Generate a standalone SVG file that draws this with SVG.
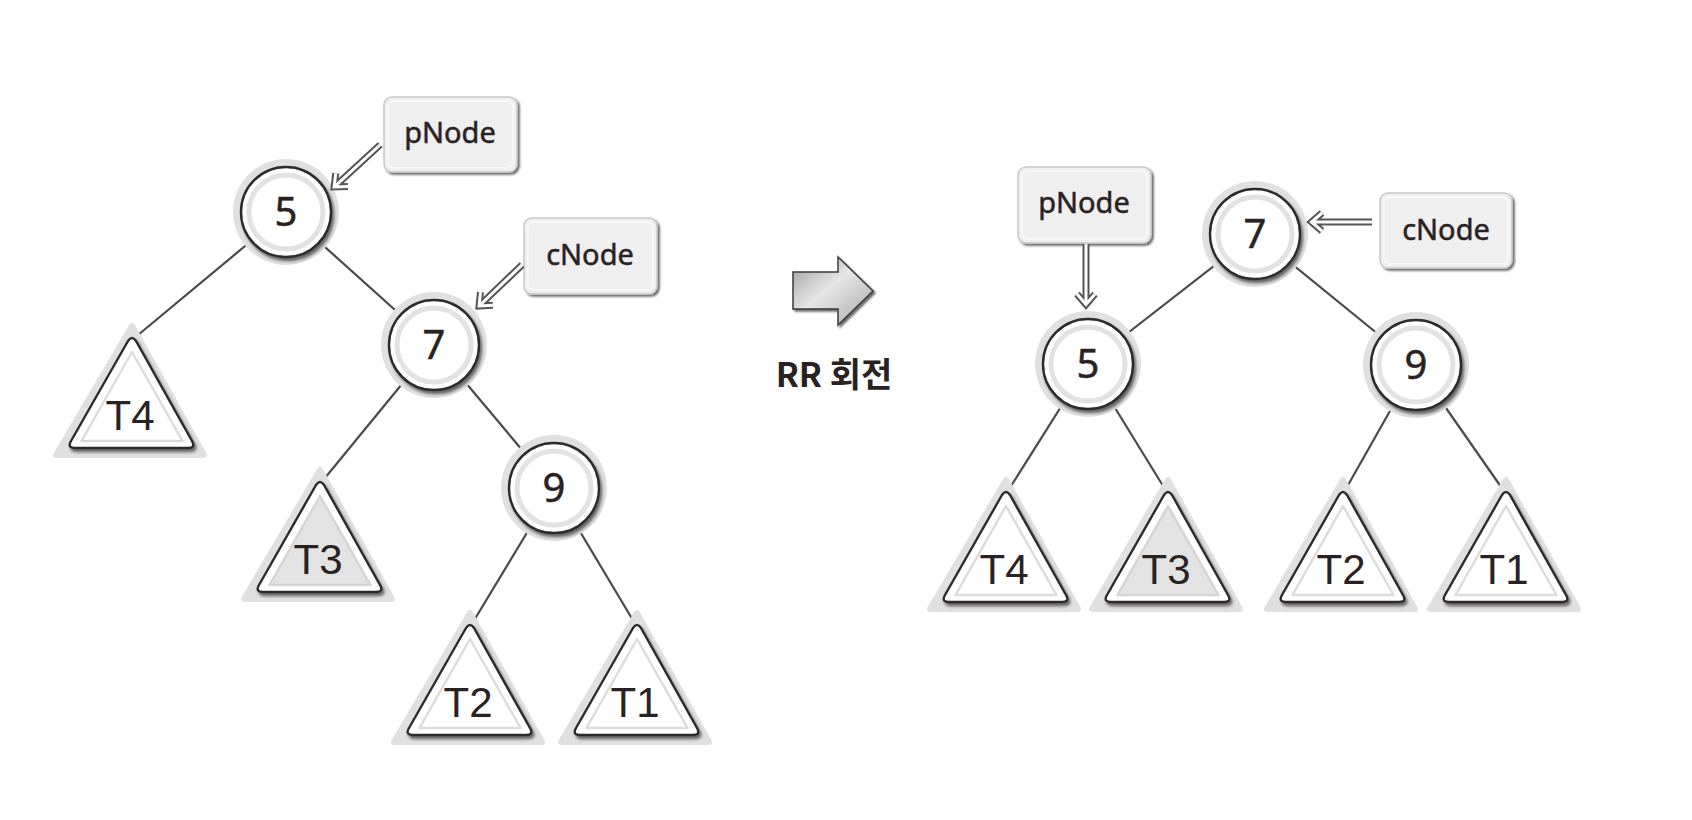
<svg xmlns="http://www.w3.org/2000/svg" xmlns:xlink="http://www.w3.org/1999/xlink" width="1692" height="820" viewBox="0 0 1692 820">
<style>
.edge{stroke:#4a4a4a;stroke-width:2.2;fill:none}
.halo{fill:#e0e0e0}
.outer{fill:#fff;stroke:#2e2a2a;stroke-width:2.4;stroke-linejoin:round}
.ring{fill:none;stroke:#e2e2e2;stroke-width:5}
.inner{fill:none;stroke:#dcdcdc;stroke-width:2.5;stroke-linejoin:round}
.innerg{fill:#e3e3e3;stroke:#d6d6d6;stroke-width:2.5;stroke-linejoin:round}
.num{font-family:"Noto Sans","Open Sans",sans-serif;font-size:40px;fill:#2a2222;stroke:#2a2222;stroke-width:0.5;text-anchor:middle}
.tl{font-family:"Liberation Sans",Arial,sans-serif;font-size:42px;fill:#2a2222;text-anchor:middle}
.lbl{font-family:"Noto Sans","Open Sans",sans-serif;font-size:29px;fill:#2a2222;stroke:#2a2222;stroke-width:0.5;text-anchor:middle}
.box{fill:#efefef;stroke:#c9c9c9;stroke-width:1.5}
.boxin{fill:none;stroke:#f7f7f7;stroke-width:2}
.arD{fill:none;stroke:#555;stroke-width:7;stroke-linejoin:miter;stroke-linecap:butt}
.arW{fill:none;stroke:#fff;stroke-width:3;stroke-linejoin:miter;stroke-linecap:butt}
.ko{font-family:"Noto Sans CJK KR","Noto Sans",sans-serif;font-size:34px;font-weight:bold;fill:#2a2222;text-anchor:middle}
</style>
<defs>
<filter id="sh" x="-20%" y="-20%" width="150%" height="150%">
<feDropShadow dx="2" dy="3" stdDeviation="1.6" flood-color="#000" flood-opacity="0.55"/>
</filter>
<filter id="shb" x="-20%" y="-20%" width="150%" height="150%">
<feDropShadow dx="2" dy="2" stdDeviation="1" flood-color="#000" flood-opacity="0.6"/>
</filter>
<linearGradient id="bg" x1="0" y1="0" x2="1" y2="1">
<stop offset="0" stop-color="#9a9a9a"/>
<stop offset="0.45" stop-color="#e6e6e6"/>
<stop offset="1" stop-color="#a8a8a8"/>
</linearGradient>
<g id="circ">
<circle class="halo" cx="0" cy="0" r="53"/>
<circle class="outer" cx="0" cy="0" r="45" filter="url(#sh)"/>
<circle class="ring" cx="0" cy="0" r="37"/>
</g>
<g id="tri">
<path class="halo" d="M0,-12 L-76,117 L72,117 Z" stroke="#e0e0e0" stroke-width="6" stroke-linejoin="round"/>
<path class="outer" d="M-4,3 Q0,-3 4,3 L60,103 Q64,110 56,110 L-57,110 Q-65,110 -61,103 Z" filter="url(#sh)"/>
<path class="inner" d="M0,14 L-50.5,103 L50.5,103 Z"/>
</g>
<g id="trig">
<path class="halo" d="M0,-12 L-76,117 L72,117 Z" stroke="#e0e0e0" stroke-width="6" stroke-linejoin="round"/>
<path class="outer" d="M-4,3 Q0,-3 4,3 L60,103 Q64,110 56,110 L-57,110 Q-65,110 -61,103 Z" filter="url(#sh)"/>
<path class="innerg" d="M0,14 L-50.5,103 L50.5,103 Z"/>
</g>
</defs>

<g id="connectors">
<line class="edge" x1="286" y1="212" x2="132" y2="340"/>
<line class="edge" x1="286" y1="212" x2="434" y2="345"/>
<line class="edge" x1="434" y1="345" x2="320" y2="484"/>
<line class="edge" x1="434" y1="345" x2="554" y2="488"/>
<line class="edge" x1="554" y1="488" x2="470" y2="627"/>
<line class="edge" x1="554" y1="488" x2="637" y2="627"/>
<line class="edge" x1="1255" y1="234" x2="1088" y2="364"/>
<line class="edge" x1="1255" y1="234" x2="1416" y2="365"/>
<line class="edge" x1="1088" y1="364" x2="1006" y2="494"/>
<line class="edge" x1="1088" y1="364" x2="1168" y2="494"/>
<line class="edge" x1="1416" y1="365" x2="1343" y2="494"/>
<line class="edge" x1="1416" y1="365" x2="1506" y2="494"/>
</g>

<!-- Left tree -->
<g id="L-T4"><use href="#tri" x="132" y="338"/><text class="tl" x="130" y="430">T4</text></g>
<g id="L-T3"><use href="#trig" x="320" y="482"/><text class="tl" x="318" y="574">T3</text></g>
<g id="L-T2"><use href="#tri" x="470" y="625"/><text class="tl" x="468" y="717">T2</text></g>
<g id="L-T1"><use href="#tri" x="637" y="625"/><text class="tl" x="635" y="717">T1</text></g>
<g id="L-n5"><use href="#circ" x="286" y="212"/><text class="num" x="286" y="226">5</text></g>
<g id="L-n7"><use href="#circ" x="434" y="345"/><text class="num" x="434" y="359">7</text></g>
<g id="L-n9"><use href="#circ" x="554" y="488"/><text class="num" x="554" y="502">9</text></g>

<g id="L-pNode">
<rect class="box" x="384" y="97" width="133" height="75" rx="8" filter="url(#shb)"/>
<rect class="boxin" x="388" y="101" width="125" height="67" rx="6"/>
<text class="lbl" x="450" y="143">pNode</text>
</g>
<g id="L-cNode">
<rect class="box" x="524" y="218" width="133" height="76" rx="8" filter="url(#shb)"/>
<rect class="boxin" x="528" y="222" width="125" height="68" rx="6"/>
<text class="lbl" x="590" y="265">cNode</text>
</g>
<g id="L-pArrow" transform="translate(333,188) rotate(137.5)">
<path class="arD" d="M-64,0 H-4 M-12,-9 L-1.5,0 L-12,9"/>
<path class="arW" d="M-64,0 H-4 M-12,-9 L-1.5,0 L-12,9"/>
</g>
<g id="L-cArrow" transform="translate(478,307) rotate(136.3)">
<path class="arD" d="M-61,0 H-4 M-12,-9 L-1.5,0 L-12,9"/>
<path class="arW" d="M-61,0 H-4 M-12,-9 L-1.5,0 L-12,9"/>
</g>

<!-- Middle arrow -->
<g id="rotation">
<path d="M793,272 H838 V257 L873,291 L838,325 V309 H793 Z" fill="url(#bg)" stroke="#3a3a3a" stroke-width="1.5" stroke-linejoin="miter" filter="url(#shb)"/>
<text class="ko" x="834" y="387">RR 회전</text>
</g>

<!-- Right tree -->
<g id="R-T4"><use href="#tri" x="1006" y="492"/><text class="tl" x="1004" y="584">T4</text></g>
<g id="R-T3"><use href="#trig" x="1168" y="492"/><text class="tl" x="1166" y="584">T3</text></g>
<g id="R-T2"><use href="#tri" x="1343" y="492"/><text class="tl" x="1341" y="584">T2</text></g>
<g id="R-T1"><use href="#tri" x="1506" y="492"/><text class="tl" x="1504" y="584">T1</text></g>
<g id="R-n7"><use href="#circ" x="1255" y="234"/><text class="num" x="1255" y="248">7</text></g>
<g id="R-n5"><use href="#circ" x="1088" y="364"/><text class="num" x="1088" y="378">5</text></g>
<g id="R-n9"><use href="#circ" x="1416" y="365"/><text class="num" x="1416" y="379">9</text></g>

<g id="R-pNode">
<rect class="box" x="1018" y="167" width="133" height="76" rx="8" filter="url(#shb)"/>
<rect class="boxin" x="1022" y="171" width="125" height="68" rx="6"/>
<text class="lbl" x="1084" y="213">pNode</text>
</g>
<g id="R-cNode">
<rect class="box" x="1380" y="193" width="132" height="75" rx="8" filter="url(#shb)"/>
<rect class="boxin" x="1384" y="197" width="124" height="67" rx="6"/>
<text class="lbl" x="1446" y="240">cNode</text>
</g>
<g id="R-pArrow" transform="translate(1086,306) rotate(90)">
<path class="arD" d="M-62,0 H-4 M-12,-9 L-1.5,0 L-12,9"/>
<path class="arW" d="M-62,0 H-4 M-12,-9 L-1.5,0 L-12,9"/>
</g>
<g id="R-cArrow" transform="translate(1310,222) rotate(180)">
<path class="arD" d="M-62,0 H-4 M-12,-9 L-1.5,0 L-12,9"/>
<path class="arW" d="M-62,0 H-4 M-12,-9 L-1.5,0 L-12,9"/>
</g>
</svg>
